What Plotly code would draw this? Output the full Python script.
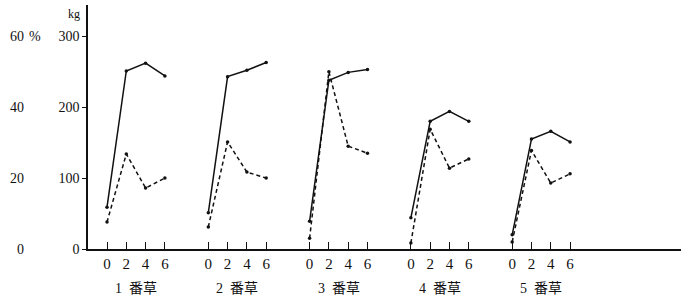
import plotly.graph_objects as go

hours = [0, 2, 4, 6]
groups = ["1\u2002番草", "2\u2002番草", "3\u2002番草", "4\u2002番草", "5\u2002番草"]
kg_values = [
    [59, 251, 262, 244],
    [51, 243, 252, 263],
    [39, 238, 249, 253],
    [44, 180, 194, 180],
    [20, 155, 166, 151],
]
pct_values = [
    [7.6, 26.8, 17.2, 20.0],
    [6.2, 30.2, 21.7, 20.0],
    [3.0, 50.0, 29.0, 27.0],
    [1.7, 33.8, 22.8, 25.4],
    [2.0, 27.8, 18.6, 21.2],
]
kg_ticks = [0, 100, 200, 300]
pct_ticks = [0, 20, 40, 60]

W, H = 689, 301
GAP = 10.5
X0, X1 = -1.97, 59.5
PL, PR = 88, 681
PT, PB = 5, 249
KGMAX = 344

def build(vals):
    xs, ys = [], []
    for gi, row in enumerate(vals):
        for h, v in zip(hours, row):
            xs.append(gi * GAP + h)
            ys.append(v)
        xs.append(None)
        ys.append(None)
    return xs, ys

FONT = "Liberation Serif, Noto Sans CJK JP"
fig = go.Figure()
xs, ys = build(kg_values)
fig.add_trace(go.Scatter(x=xs, y=ys, mode="lines+markers", yaxis="y",
                         line=dict(color="#111", width=1.5),
                         marker=dict(size=3.5, color="#111"),
                         connectgaps=False, showlegend=False))
xs, ys = build(pct_values)
fig.add_trace(go.Scatter(x=xs, y=ys, mode="lines+markers", yaxis="y2",
                         line=dict(color="#111", width=1.5, dash="4px,3px"),
                         marker=dict(size=3.5, color="#111"),
                         connectgaps=False, showlegend=False))

tickvals, ticktext = [], []
for gi in range(len(groups)):
    for h in hours:
        tickvals.append(gi * GAP + h)
        ticktext.append(str(h))

fig.update_layout(
    width=W, height=H,
    margin=dict(l=0, r=0, t=0, b=0),
    plot_bgcolor="white", paper_bgcolor="white",
    font=dict(family=FONT, size=14, color="#111"),
    xaxis=dict(domain=[PL / W, PR / W], range=[X0, X1],
               tickvals=tickvals, ticktext=ticktext,
               ticks="inside", ticklen=7, tickcolor="#111", tickwidth=1,
               showline=True, linecolor="#111", linewidth=1.5,
               showgrid=False, zeroline=False, automargin=False,
               tickfont=dict(size=15)),
    yaxis=dict(domain=[(H - PB) / H, (H - PT) / H], range=[0, KGMAX],
               tickvals=kg_ticks, ticks="outside", ticklen=4, tickcolor="#111",
               showline=True, linecolor="#111", linewidth=1.5,
               showgrid=False, zeroline=False, automargin=False,
               tickfont=dict(size=14)),
    yaxis2=dict(overlaying="y", range=[0, KGMAX / 5], anchor="free",
                position=24 / W, side="left",
                tickvals=pct_ticks, ticks="", showline=False,
                showgrid=False, zeroline=False, automargin=False,
                tickfont=dict(size=14)),
)

ann = [dict(text="kg", xref="paper", yref="paper", x=74 / W, y=(H - 14) / H,
            showarrow=False, xanchor="center", yanchor="middle",
            font=dict(size=12))]
ann.append(dict(text="%", xref="paper", yref="y2", x=27 / W, y=60,
                showarrow=False, xanchor="left", yanchor="middle",
                font=dict(size=14)))
for gi, g in enumerate(groups):
    ann.append(dict(text=g, xref="x", yref="paper", x=gi * GAP + 3,
                    y=(H - 288) / H, showarrow=False,
                    xanchor="center", yanchor="middle",
                    font=dict(size=14)))
fig.update_layout(annotations=ann)

fig.write_html("out.html")
